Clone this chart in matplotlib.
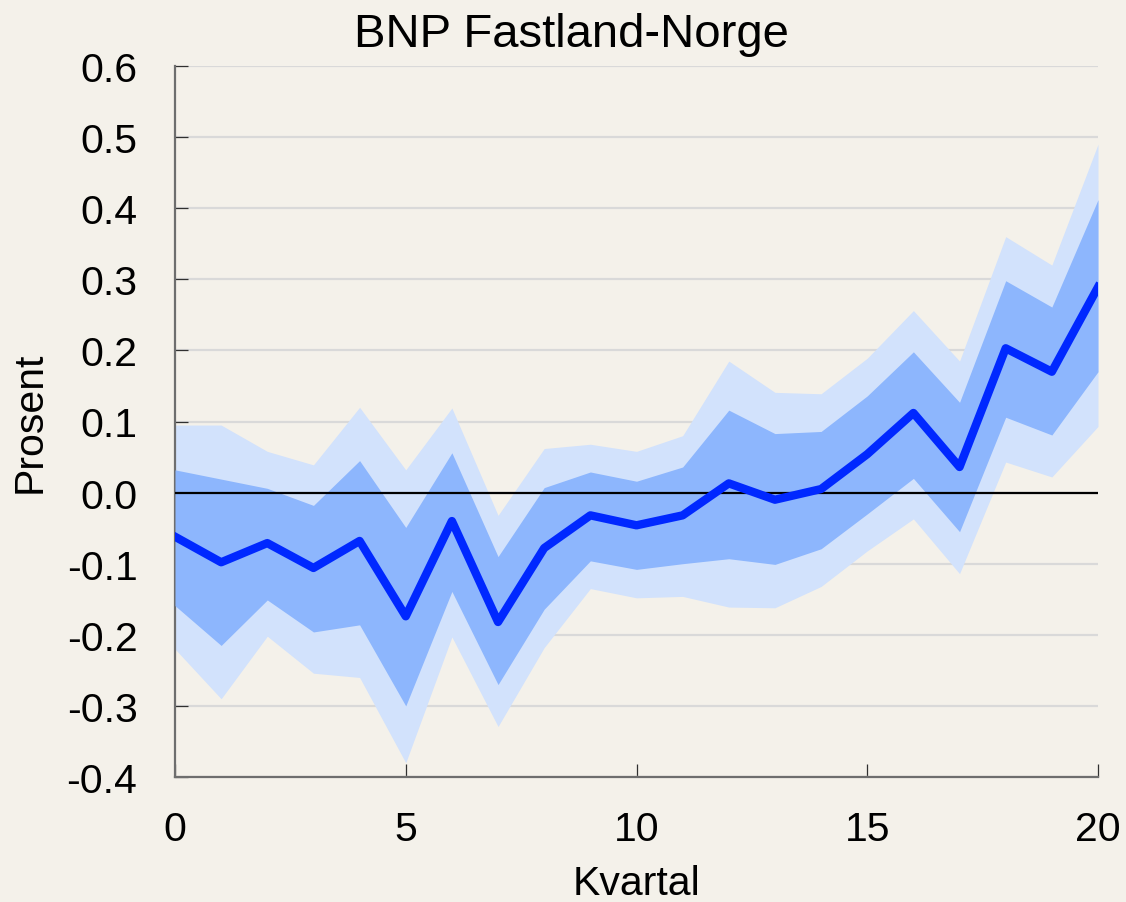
import matplotlib
matplotlib.use("Agg")
import matplotlib.pyplot as plt
import numpy as np

plt.rcParams['font.family'] = ['Liberation Sans', 'DejaVu Sans']
plt.rcParams['xtick.direction'] = 'in'
plt.rcParams['ytick.direction'] = 'in'

quarters = list(range(21))
median = [-0.062, -0.098, -0.071, -0.106, -0.068, -0.174, -0.040, -0.182, -0.078, -0.032,
          -0.046, -0.032, 0.013, -0.010, 0.005, 0.054, 0.112, 0.036, 0.203, 0.170, 0.289]
inner_upper = [0.032, 0.019, 0.006, -0.018, 0.045, -0.049, 0.056, -0.090, 0.007, 0.029,
               0.016, 0.036, 0.116, 0.083, 0.086, 0.136, 0.198, 0.127, 0.298, 0.261, 0.412]
inner_lower = [-0.159, -0.215, -0.151, -0.196, -0.186, -0.300, -0.139, -0.270, -0.164, -0.096,
               -0.108, -0.100, -0.093, -0.101, -0.079, -0.030, 0.020, -0.055, 0.106, 0.081, 0.170]
outer_upper = [0.095, 0.095, 0.058, 0.039, 0.120, 0.032, 0.119, -0.032, 0.062, 0.068,
               0.058, 0.080, 0.185, 0.141, 0.139, 0.189, 0.256, 0.185, 0.360, 0.320, 0.490]
outer_lower = [-0.220, -0.290, -0.202, -0.254, -0.260, -0.380, -0.203, -0.329, -0.218, -0.135,
               -0.148, -0.146, -0.161, -0.162, -0.132, -0.082, -0.037, -0.114, 0.043, 0.022, 0.093]
y_ticks = [-0.4, -0.3, -0.2, -0.1, 0.0, 0.1, 0.2, 0.3, 0.4, 0.5, 0.6]
y_ticklabels = ['-0.4', '-0.3', '-0.2', '-0.1', '0.0', '0.1', '0.2', '0.3', '0.4', '0.5', '0.6']
x_ticks = [0, 5, 10, 15, 20]

bg = '#F4F1EA'
fig = plt.figure(figsize=(11.26, 9.03), dpi=100, facecolor=bg)
ax = fig.add_axes([175/1126, 1-778/903, (1098-175)/1126, (778-67)/903])
ax.set_facecolor(bg)

ax.fill_between(quarters, outer_lower, outer_upper, color='#D2E2FC', lw=0, zorder=2)
ax.fill_between(quarters, inner_lower, inner_upper, color='#8DB6FD', lw=0, zorder=3)
ax.plot(quarters, median, color='#0028FF', lw=6, zorder=5, solid_joinstyle='round')
ax.axhline(0, color='black', lw=1.6, zorder=4)

ax.set_xlim(0, 20)
ax.set_ylim(-0.4, 0.6)
ax.set_xticks(x_ticks)
ax.set_yticks(y_ticks)
ax.set_yticklabels(y_ticklabels)
ax.yaxis.grid(True, color='#D9D9D9', lw=1.6, zorder=1)
ax.set_axisbelow(True)

for s in ['top', 'right']:
    ax.spines[s].set_visible(False)
for s in ['left', 'bottom']:
    ax.spines[s].set_color('#6E6E6E')
    ax.spines[s].set_linewidth(1.6)

ax.tick_params(axis='y', direction='in', length=9.5, width=0.9, color='#303030',
               labelsize=29.5, labelcolor='black', pad=27)
ax.tick_params(axis='x', direction='in', length=9.5, width=0.9, color='#303030',
               labelsize=29.5, labelcolor='black', pad=24)

ax.set_xlabel('Kvartal', fontsize=29.5)
ax.set_ylabel('Prosent', fontsize=29.5)
ax.xaxis.set_label_coords(0.5, -0.122)
ax.yaxis.set_label_coords(-0.137, 0.5)
ax.xaxis.label.set_va('top')

fig.text(571/1126, 1-47/903, 'BNP Fastland-Norge', fontsize=34, ha='center', va='baseline')

fig.savefig('out.png', dpi=100, facecolor=bg)
